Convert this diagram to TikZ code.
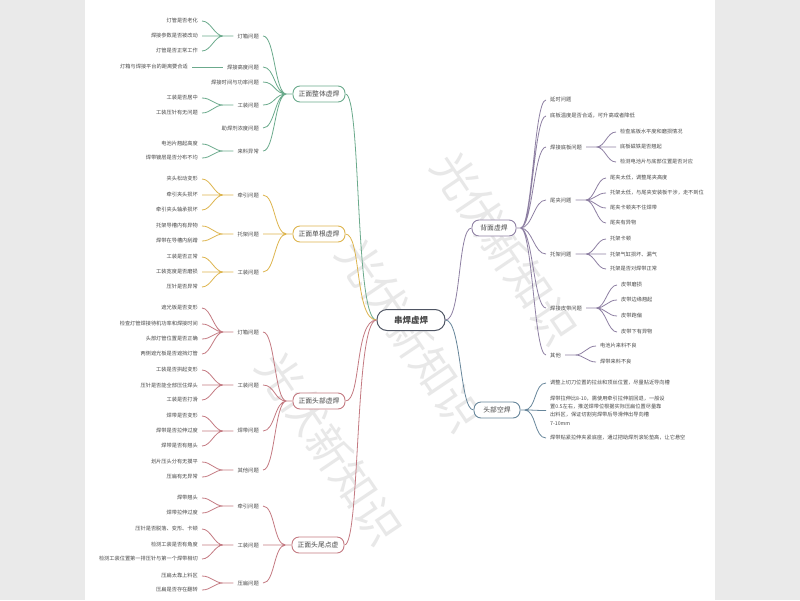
\documentclass[tikz,border=0pt]{standalone}
\usepackage{fontspec}
\setmainfont{Noto Sans CJK SC}
\usepackage{xcolor}
\usetikzlibrary{positioning, calc}
\definecolor{mapgreen}{HTML}{6BAA8C}
\definecolor{mapgold}{HTML}{DDB54E}
\definecolor{maprose}{HTML}{C47A82}
\definecolor{mapplum}{HTML}{8E80A3}
\definecolor{mapsteel}{HTML}{67869B}
\definecolor{rootink}{HTML}{4F5563}
\definecolor{leafink}{HTML}{4A4A4A}
\definecolor{pagegray}{HTML}{EAEAEA}
\tikzset{
    rootblk/.style={draw=rootink, line width=1pt, fill=white, rounded corners=10pt, minimum width=68pt,
                    minimum height=21pt, font=\fontsize{8.5}{10}\selectfont\bfseries, text=leafink},
    topicblk/.style={draw=#1, line width=0.9pt, fill=white, rounded corners=7pt, minimum width=52pt,
                     minimum height=16pt, inner sep=2pt, font=\fontsize{6.8}{8}\selectfont, text=leafink},
    sublbl/.style={inner xsep=4pt, inner ysep=1pt, font=\fontsize{5.3}{6}\selectfont, text=leafink},
    leaflbl/.style={inner xsep=4pt, inner ysep=1pt, font=\fontsize{5.2}{8.3}\selectfont, text=leafink},
    link/.style={draw=#1, line width=0.8pt},
    wmtext/.style={text=gray!18, font=\fontsize{44}{44}\selectfont, rotate=-56}
}

\begin{document}
\begin{tikzpicture}[x=1pt, y=-1pt]
    \useasboundingbox (0,0) rectangle (800,600);
    \fill[pagegray] (0,0) rectangle (800,600);
    \fill[white] (85,0) rectangle (715,600);
    % watermark
    \node[wmtext] (wm1) at (505,248) {光伏新知识};
    \node[wmtext] (wm2) at (410,335) {光伏新知识};
    \node[wmtext] (wm3) at (330,448) {光伏新知识};

    % root and main topics
    \node[rootblk] (root) at (411,320) {串焊虚焊};
    \node[topicblk=mapgreen] (t1) at (319,94) {正面整体虚焊};
    \node[topicblk=mapgold] (t2) at (319,234) {正面单根虚焊};
    \node[topicblk=maprose] (t3) at (319,401) {正面头部虚焊};
    \node[topicblk=maprose] (t4) at (318,545) {正面头尾点虚};
    \node[topicblk=mapplum, minimum width=44pt] (t5) at (494,228) {背面虚焊};
    \node[topicblk=mapsteel, minimum width=46pt] (t6) at (497,410) {头部空焊};

    % front, whole
    \node[sublbl, anchor=east] (s11) at (263,36) {灯箱问题};
    \node[sublbl, anchor=east] (s12) at (263,67) {焊接高度问题};
    \node[sublbl, anchor=east] (s13) at (263,82) {焊接时间与功率问题};
    \node[sublbl, anchor=east] (s14) at (263,105) {工装问题};
    \node[sublbl, anchor=east] (s15) at (263,128) {助焊剂浓度问题};
    \node[sublbl, anchor=east] (s16) at (263,151) {来料异常};
    \node[leaflbl, anchor=east] (l111) at (202,21) {灯管是否老化};
    \node[leaflbl, anchor=east] (l112) at (202,36) {焊接参数是否被改动};
    \node[leaflbl, anchor=east] (l113) at (202,51) {灯管是否正常工作};
    \node[leaflbl, anchor=east] (l121) at (192,67) {灯箱与焊接平台的距离要合适};
    \node[leaflbl, anchor=east] (l141) at (202,98) {工装是否居中};
    \node[leaflbl, anchor=east] (l142) at (202,113) {工装压针有无问题};
    \node[leaflbl, anchor=east] (l161) at (202,144) {电池片翘起高度};
    \node[leaflbl, anchor=east] (l162) at (202,158) {焊带镀层是否分布不均};

    % front, single
    \node[sublbl, anchor=east] (s21) at (263,195) {牵引问题};
    \node[sublbl, anchor=east] (s22) at (263,234) {托架问题};
    \node[sublbl, anchor=east] (s23) at (263,272) {工装问题};
    \node[leaflbl, anchor=east] (l211) at (202,179) {夹头松动变形};
    \node[leaflbl, anchor=east] (l212) at (202,195) {牵引夹头损坏};
    \node[leaflbl, anchor=east] (l213) at (202,210) {牵引夹头轴承损坏};
    \node[leaflbl, anchor=east] (l221) at (202,226) {托架导槽内有异物};
    \node[leaflbl, anchor=east] (l222) at (202,241) {焊带在导槽内刮蹭};
    \node[leaflbl, anchor=east] (l231) at (202,257) {工装是否正常};
    \node[leaflbl, anchor=east] (l232) at (202,272) {工装宽度是否磨损};
    \node[leaflbl, anchor=east] (l233) at (202,287) {压针是否异常};

    % front, head
    \node[sublbl, anchor=east] (s31) at (263,332) {灯箱问题};
    \node[sublbl, anchor=east] (s32) at (263,385) {工装问题};
    \node[sublbl, anchor=east] (s33) at (263,431) {焊带问题};
    \node[sublbl, anchor=east] (s34) at (263,470) {其他问题};
    \node[leaflbl, anchor=east] (l311) at (202,308) {遮光板是否变形};
    \node[leaflbl, anchor=east] (l312) at (202,324) {检查灯管焊接待机功率和焊接时间};
    \node[leaflbl, anchor=east] (l313) at (202,339) {头部灯管位置是否正确};
    \node[leaflbl, anchor=east] (l314) at (202,354) {两侧遮光板是否遮挡灯管};
    \node[leaflbl, anchor=east] (l321) at (202,370) {工装是否拱起变形};
    \node[leaflbl, anchor=east] (l322) at (202,385) {压针是否能全部压住焊头};
    \node[leaflbl, anchor=east] (l323) at (202,400) {工装是否打滑};
    \node[leaflbl, anchor=east] (l331) at (202,416) {焊带是否变形};
    \node[leaflbl, anchor=east] (l332) at (202,431) {焊带是否拉伸过度};
    \node[leaflbl, anchor=east] (l333) at (202,446) {焊带是否有翘头};
    \node[leaflbl, anchor=east] (l341) at (202,462) {划片压头分有无摸平};
    \node[leaflbl, anchor=east] (l342) at (202,477) {压扁有无异常};

    % front, head and tail
    \node[sublbl, anchor=east] (s41) at (263,506) {牵引问题};
    \node[sublbl, anchor=east] (s42) at (263,545) {工装问题};
    \node[sublbl, anchor=east] (s43) at (263,583) {压扁问题};
    \node[leaflbl, anchor=east] (l411) at (202,498) {焊带翘头};
    \node[leaflbl, anchor=east] (l412) at (202,513) {焊带拉伸过度};
    \node[leaflbl, anchor=east] (l421) at (202,529) {压针是否脱落、变形、卡顿};
    \node[leaflbl, anchor=east] (l422) at (202,545) {检测工装是否有角度};
    \node[leaflbl, anchor=east] (l423) at (202,559) {检测工装位置第一排压针与第一个焊带相切};
    \node[leaflbl, anchor=east] (l431) at (202,576) {压扁太靠上料区};
    \node[leaflbl, anchor=east] (l432) at (202,590) {压扁是否存在翻转};

    % back
    \node[sublbl, anchor=west] (r1) at (546,100) {延时问题};
    \node[sublbl, anchor=west] (r2) at (546,116) {底板温度是否合适，可升高或者降低};
    \node[sublbl, anchor=west] (r3) at (546,147) {焊接底板问题};
    \node[sublbl, anchor=west] (r4) at (546,200) {尾夹问题};
    \node[sublbl, anchor=west] (r5) at (546,254) {托架问题};
    \node[sublbl, anchor=west] (r6) at (546,308) {焊接皮带问题};
    \node[sublbl, anchor=west] (r7) at (546,355) {其他};
    \node[leaflbl, anchor=west] (p31) at (616,132) {检查底板水平度和磨损情况};
    \node[leaflbl, anchor=west] (p32) at (616,147) {底板磁铁是否翘起};
    \node[leaflbl, anchor=west] (p33) at (616,162) {检测电池片与底部位置是否对应};
    \node[leaflbl, anchor=west] (p41) at (606,178) {尾夹太低，调整尾夹高度};
    \node[leaflbl, anchor=west] (p42) at (606,193) {托架太低，与尾夹安装板干涉，走不到位};
    \node[leaflbl, anchor=west] (p43) at (606,208) {尾夹卡顿夹不住焊带};
    \node[leaflbl, anchor=west] (p44) at (606,223) {尾夹有异物};
    \node[leaflbl, anchor=west] (p51) at (606,239) {托架卡顿};
    \node[leaflbl, anchor=west] (p52) at (606,254) {托架气缸损坏、漏气};
    \node[leaflbl, anchor=west] (p53) at (606,269) {托架是否对焊带正常};
    \node[leaflbl, anchor=west] (p61) at (617,285) {皮带磨损};
    \node[leaflbl, anchor=west] (p62) at (617,300) {皮带边缘翘起};
    \node[leaflbl, anchor=west] (p63) at (617,316) {皮带跑偏};
    \node[leaflbl, anchor=west] (p64) at (617,332) {皮带下有异物};
    \node[leaflbl, anchor=west] (p71) at (596,346) {电池片来料不良};
    \node[leaflbl, anchor=west] (p72) at (596,362) {焊带来料不良};

    % head, empty
    \node[leaflbl, anchor=west] (h1) at (546,383) {调整上切刀位置的拉丝和顶丝位置，尽量贴近导向槽};
    \node[leaflbl, anchor=west, align=left] (h2) at (546,410.5)
        {焊带拉伸比8-10，需使用牵引拉伸前回退，一般设\\置0.5左右，推送焊带位根据实际压扁位置尽量靠\\出料区，保证切割完焊带后导滑伸出导向槽\\7-10mm};
    \node[leaflbl, anchor=west] (h3) at (546,438) {焊带贴紧拉伸夹紧底座，通过把助焊剂滚轮垫高，让它悬空};

    % trunk
    \draw[link=mapgreen] (root.west) .. controls +(-22,0) and +(16,0) .. (t1.east);
    \draw[link=mapgold] (root.west) .. controls +(-22,0) and +(16,0) .. (t2.east);
    \draw[link=maprose] (root.west) .. controls +(-22,0) and +(16,0) .. (t3.east);
    \draw[link=maprose] (root.west) .. controls +(-22,0) and +(16,0) .. (t4.east);
    \draw[link=mapplum] (root.east) .. controls +(16,0) and +(-14,0) .. (t5.west);
    \draw[link=mapsteel] (root.east) .. controls +(16,0) and +(-14,0) .. (t6.west);

    % topic to sub
    \draw[link=mapgreen] (t1.west) -- ++(-6,0) coordinate (j1)
        .. controls +(-12,0) and +(12,0) .. (s11.east)
        (j1) .. controls +(-12,0) and +(12,0) .. (s12.east)
        (j1) .. controls +(-12,0) and +(12,0) .. (s13.east)
        (j1) .. controls +(-12,0) and +(12,0) .. (s14.east)
        (j1) .. controls +(-12,0) and +(12,0) .. (s15.east)
        (j1) .. controls +(-12,0) and +(12,0) .. (s16.east);
    \draw[link=mapgold] (t2.west) -- ++(-6,0) coordinate (j2)
        .. controls +(-12,0) and +(12,0) .. (s21.east)
        (j2) -- (s22.east)
        (j2) .. controls +(-12,0) and +(12,0) .. (s23.east);
    \draw[link=maprose] (t3.west) -- ++(-6,0) coordinate (j3)
        .. controls +(-12,0) and +(12,0) .. (s31.east)
        (j3) .. controls +(-12,0) and +(12,0) .. (s32.east)
        (j3) .. controls +(-12,0) and +(12,0) .. (s33.east)
        (j3) .. controls +(-12,0) and +(12,0) .. (s34.east);
    \draw[link=maprose] (t4.west) -- ++(-6,0) coordinate (j4)
        .. controls +(-12,0) and +(12,0) .. (s41.east)
        (j4) -- (s42.east)
        (j4) .. controls +(-12,0) and +(12,0) .. (s43.east);
    \draw[link=mapplum] (t5.east) -- ++(4,0) coordinate (j5)
        .. controls +(12,0) and +(-12,0) .. (r1.west)
        (j5) .. controls +(12,0) and +(-12,0) .. (r2.west)
        (j5) .. controls +(12,0) and +(-12,0) .. (r3.west)
        (j5) .. controls +(12,0) and +(-12,0) .. (r4.west)
        (j5) .. controls +(12,0) and +(-12,0) .. (r5.west)
        (j5) .. controls +(12,0) and +(-12,0) .. (r6.west)
        (j5) .. controls +(12,0) and +(-12,0) .. (r7.west);
    \draw[link=mapsteel] (t6.east) -- ++(4,0) coordinate (j6)
        .. controls +(12,0) and +(-12,0) .. (h1.west)
        (j6) .. controls +(12,0) and +(-12,0) .. (h2.west)
        (j6) .. controls +(12,0) and +(-12,0) .. (h3.west);

    % sub to leaf
    \draw[link=mapgreen] (s11.west) -- ++(-10,0) coordinate (k11)
        .. controls +(-9,0) and +(9,0) .. (l111.east)
        (k11) -- (l112.east)
        (k11) .. controls +(-9,0) and +(9,0) .. (l113.east);
    \draw[link=mapgreen] (s12.west) -- (l121.east);
    \draw[link=mapgreen] (s14.west) -- ++(-10,0) coordinate (k14)
        .. controls +(-9,0) and +(9,0) .. (l141.east)
        (k14) .. controls +(-9,0) and +(9,0) .. (l142.east);
    \draw[link=mapgreen] (s16.west) -- ++(-10,0) coordinate (k16)
        .. controls +(-9,0) and +(9,0) .. (l161.east)
        (k16) .. controls +(-9,0) and +(9,0) .. (l162.east);
    \draw[link=mapgold] (s21.west) -- ++(-10,0) coordinate (k21)
        .. controls +(-9,0) and +(9,0) .. (l211.east)
        (k21) -- (l212.east)
        (k21) .. controls +(-9,0) and +(9,0) .. (l213.east);
    \draw[link=mapgold] (s22.west) -- ++(-10,0) coordinate (k22)
        .. controls +(-9,0) and +(9,0) .. (l221.east)
        (k22) .. controls +(-9,0) and +(9,0) .. (l222.east);
    \draw[link=mapgold] (s23.west) -- ++(-10,0) coordinate (k23)
        .. controls +(-9,0) and +(9,0) .. (l231.east)
        (k23) -- (l232.east)
        (k23) .. controls +(-9,0) and +(9,0) .. (l233.east);
    \draw[link=maprose] (s31.west) -- ++(-10,0) coordinate (k31)
        .. controls +(-9,0) and +(9,0) .. (l311.east)
        (k31) .. controls +(-9,0) and +(9,0) .. (l312.east)
        (k31) .. controls +(-9,0) and +(9,0) .. (l313.east)
        (k31) .. controls +(-9,0) and +(9,0) .. (l314.east);
    \draw[link=maprose] (s32.west) -- ++(-10,0) coordinate (k32)
        .. controls +(-9,0) and +(9,0) .. (l321.east)
        (k32) -- (l322.east)
        (k32) .. controls +(-9,0) and +(9,0) .. (l323.east);
    \draw[link=maprose] (s33.west) -- ++(-10,0) coordinate (k33)
        .. controls +(-9,0) and +(9,0) .. (l331.east)
        (k33) -- (l332.east)
        (k33) .. controls +(-9,0) and +(9,0) .. (l333.east);
    \draw[link=maprose] (s34.west) -- ++(-10,0) coordinate (k34)
        .. controls +(-9,0) and +(9,0) .. (l341.east)
        (k34) .. controls +(-9,0) and +(9,0) .. (l342.east);
    \draw[link=maprose] (s41.west) -- ++(-10,0) coordinate (k41)
        .. controls +(-9,0) and +(9,0) .. (l411.east)
        (k41) .. controls +(-9,0) and +(9,0) .. (l412.east);
    \draw[link=maprose] (s42.west) -- ++(-10,0) coordinate (k42)
        .. controls +(-9,0) and +(9,0) .. (l421.east)
        (k42) -- (l422.east)
        (k42) .. controls +(-9,0) and +(9,0) .. (l423.east);
    \draw[link=maprose] (s43.west) -- ++(-10,0) coordinate (k43)
        .. controls +(-9,0) and +(9,0) .. (l431.east)
        (k43) .. controls +(-9,0) and +(9,0) .. (l432.east);
    \draw[link=mapplum] (r3.east) -- ++(10,0) coordinate (q3)
        .. controls +(9,0) and +(-9,0) .. (p31.west)
        (q3) -- (p32.west)
        (q3) .. controls +(9,0) and +(-9,0) .. (p33.west);
    \draw[link=mapplum] (r4.east) -- ++(10,0) coordinate (q4)
        .. controls +(9,0) and +(-9,0) .. (p41.west)
        (q4) .. controls +(9,0) and +(-9,0) .. (p42.west)
        (q4) .. controls +(9,0) and +(-9,0) .. (p43.west)
        (q4) .. controls +(9,0) and +(-9,0) .. (p44.west);
    \draw[link=mapplum] (r5.east) -- ++(10,0) coordinate (q5)
        .. controls +(9,0) and +(-9,0) .. (p51.west)
        (q5) -- (p52.west)
        (q5) .. controls +(9,0) and +(-9,0) .. (p53.west);
    \draw[link=mapplum] (r6.east) -- ++(10,0) coordinate (q6)
        .. controls +(9,0) and +(-9,0) .. (p61.west)
        (q6) .. controls +(9,0) and +(-9,0) .. (p62.west)
        (q6) .. controls +(9,0) and +(-9,0) .. (p63.west)
        (q6) .. controls +(9,0) and +(-9,0) .. (p64.west);
    \draw[link=mapplum] (r7.east) -- ++(10,0) coordinate (q7)
        .. controls +(9,0) and +(-9,0) .. (p71.west)
        (q7) .. controls +(9,0) and +(-9,0) .. (p72.west);
\end{tikzpicture}
\end{document}
